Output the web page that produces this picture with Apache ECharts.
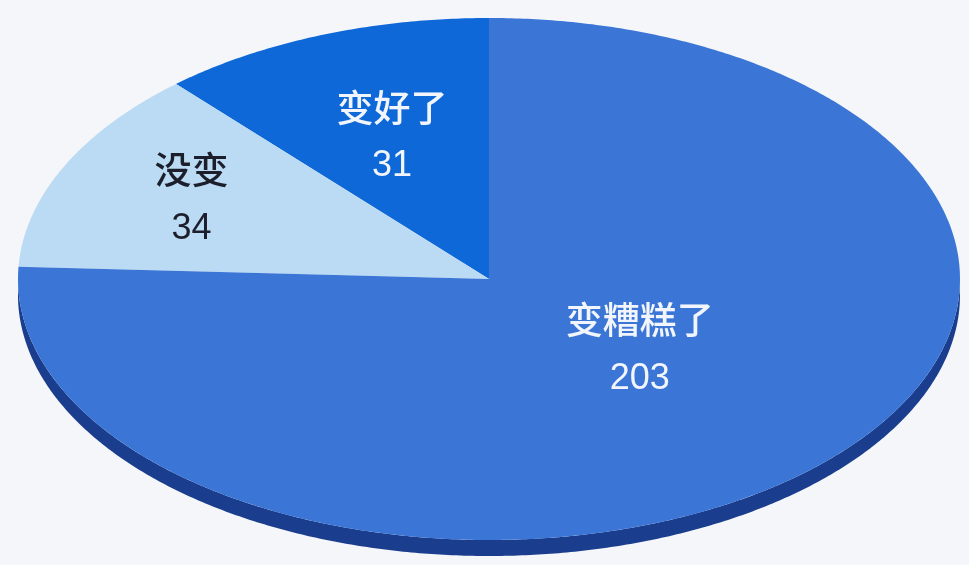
<!DOCTYPE html>
<html><head><meta charset="utf-8">
<script src="https://cdn.jsdelivr.net/npm/echarts@6/dist/echarts.min.js"></script>
<style>html,body{margin:0;padding:0;background:#f4f6f9}#c{width:969px;height:565px}</style>
</head><body><div id="c"></div>
<script>
const categories = ['变好了', '没变', '变糟糕了'];
const values = [31, 34, 203];

// style settings
const colors = ['#0e68d8', '#bbdbf4', '#3b76d6'];
const labelColors = ['#f2f6fc', '#1c1f2b', '#f2f6fc'];
const labelRadius = [0.58, 0.70, 0.42];
const labelAngleShift = [0, 0, 6];
const sideColor = '#1a3d8d';

const total = values.reduce((a, b) => a + b, 0);
const starts = [];
let acc = 0;
values.forEach(v => { starts.push(acc); acc += v; });

const chart = echarts.init(document.getElementById('c'));

function geom(api) {
  const W = api.getWidth(), H = api.getHeight();
  return { cx: W * 489 / 969, cy: H * 279 / 565, rx: W * 471 / 969, ry: H * 261 / 565, depth: 16 };
}
function pt(g, deg, dy) {
  const a = deg * Math.PI / 180;
  return [g.cx + g.rx * Math.cos(a), g.cy - g.ry * Math.sin(a) + (dy || 0)];
}

chart.setOption({
  backgroundColor: '#f4f6f9',
  animation: false,
  series: [
    {
      type: 'custom',
      coordinateSystem: 'none',
      data: values.map((v, i) => ({ name: categories[i], value: [v, starts[i]] })),
      renderItem: function (params, api) {
        const i = params.dataIndex;
        const g = geom(api);
        const v = api.value(0), s = api.value(1);
        const a0 = 90 + s / total * 360;
        const a1 = 90 + (s + v) / total * 360;
        const children = [];
        // side (visible lower half)
        const lo = Math.max(a0, 180), hi = Math.min(a1, 360);
        const sidePts = [];
        if (hi > lo) {
          for (let a = lo; a <= hi + 1e-6; a += 0.5) sidePts.push(pt(g, a, 0));
          for (let a = hi; a >= lo - 1e-6; a -= 0.5) sidePts.push(pt(g, a, g.depth));
          children.push({ type: 'polygon', shape: { points: sidePts }, style: { fill: sideColor }, z2: 1 });
        }
        // top face sector
        const pts = [[g.cx, g.cy]];
        for (let a = a0; a <= a1 + 1e-6; a += 0.5) pts.push(pt(g, Math.min(a, a1), 0));
        pts.push(pt(g, a1, 0));
        children.push({ type: 'polygon', shape: { points: pts }, style: { fill: colors[i] }, z2: 2 });
        // labels
        const mid = (a0 + a1) / 2 + labelAngleShift[i];
        const r = labelRadius[i];
        const m = mid * Math.PI / 180;
        const lx = g.cx + g.rx * r * Math.cos(m);
        const ly = g.cy - g.ry * r * Math.sin(m);
        children.push({ type: 'text', z2: 10, style: { text: categories[i], x: lx, y: ly - 30, align: 'center', verticalAlign: 'middle', fill: labelColors[i], fontSize: 37, fontWeight: 500, fontFamily: '"Noto Sans CJK SC", sans-serif' } });
        children.push({ type: 'text', z2: 10, style: { text: String(v), x: lx, y: ly + 29, align: 'center', verticalAlign: 'middle', fill: labelColors[i], fontSize: 36, fontFamily: '"Liberation Sans", Arial, sans-serif' } });
        return { type: 'group', children: children };
      }
    }
  ]
});
</script>
</body></html>
